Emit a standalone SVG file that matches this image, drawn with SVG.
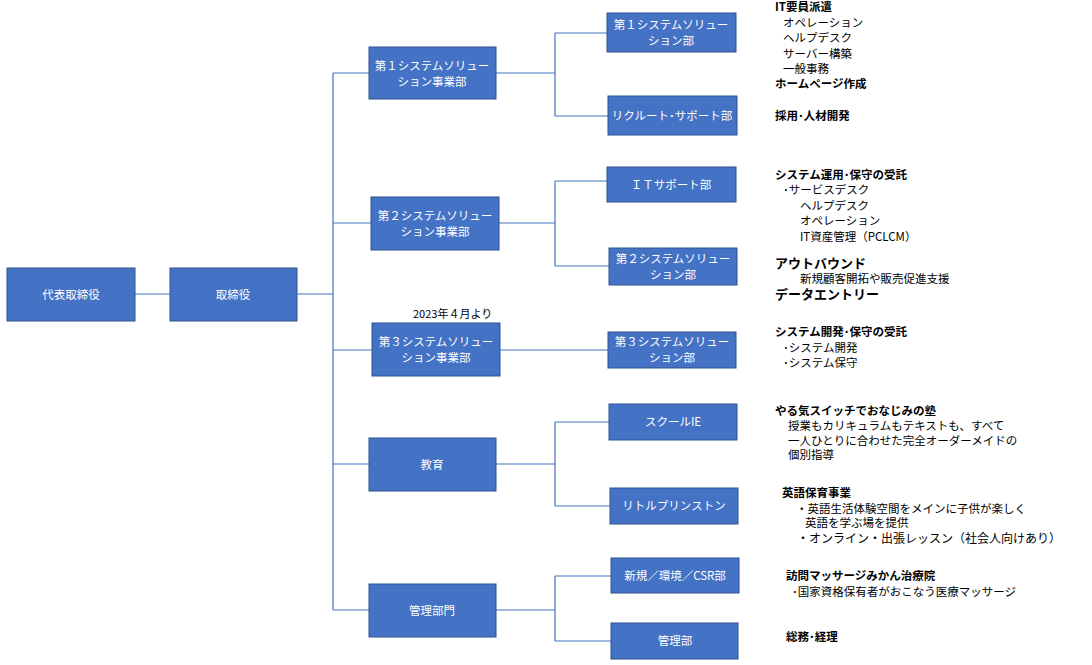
<svg xmlns="http://www.w3.org/2000/svg" width="1092" height="665" viewBox="0 0 1092 665">
<style>
.b{fill:#4472C4;stroke:#2F528F;stroke-width:1}
.bt{fill:#fff;font-family:"Noto Sans CJK JP",sans-serif;font-size:11.5px;text-anchor:middle}
.c{fill:none;stroke:#4472C4;stroke-width:1.2}
.d{font-family:"Noto Sans CJK JP",sans-serif;font-size:11.5px;fill:#000}
.h{font-weight:bold}
</style>
<rect width="1092" height="665" fill="#fff"/>
<g id="connectors" class="c">
<path d="M135,294H170M297,294H333M333,73V610M333,73H369M333,223H371M333,350H372M333,464H369M333,610H369"/>
<path d="M496,73H555M555,33V116M555,33H607M555,116H608"/>
<path d="M499,223H555M555,181V266M555,181H607M555,266H609"/>
<path d="M500,350H608"/>
<path d="M496,464H555M555,422V506M555,422H609M555,506H610"/>
<path d="M496,610H555M555,576V641M555,576H611M555,641H611"/>
</g>
<g id="n1"><rect class="b" x="7" y="268" width="128" height="53"/><text class="bt" x="71" y="299">代表取締役</text></g>
<g id="n2"><rect class="b" x="170" y="268" width="127" height="53"/><text class="bt" x="233" y="299">取締役</text></g>
<g id="n3"><rect class="b" x="369" y="47" width="127" height="52"/><text class="bt" x="432" y="70">第１システムソリュー</text><text class="bt" x="432" y="86">ション事業部</text></g>
<g id="n4"><rect class="b" x="371" y="197" width="128" height="53"/><text class="bt" x="435" y="220">第２システムソリュー</text><text class="bt" x="435" y="236">ション事業部</text></g>
<g id="n5"><text class="d" x="413" y="318" style="font-size:11px">2023年４月より</text><rect class="b" x="372" y="323" width="128" height="53"/><text class="bt" x="436" y="346">第３システムソリュー</text><text class="bt" x="436" y="362">ション事業部</text></g>
<g id="n6"><rect class="b" x="369" y="438" width="127" height="53"/><text class="bt" x="432" y="469">教育</text></g>
<g id="n7"><rect class="b" x="369" y="584" width="127" height="53"/><text class="bt" x="432" y="615">管理部門</text></g>
<g id="m1"><rect class="b" x="607" y="13" width="129" height="39"/><text class="bt" x="671" y="29">第１システムソリュー</text><text class="bt" x="671" y="45">ション部</text></g>
<g id="m2"><rect class="b" x="608" y="96" width="129" height="39"/><text class="bt" x="672" y="120">リクルート･サポート部</text></g>
<g id="m3"><rect class="b" x="607" y="167" width="129" height="35"/><text class="bt" x="671" y="189">ＩＴサポート部</text></g>
<g id="m4"><rect class="b" x="609" y="248" width="128" height="37"/><text class="bt" x="673" y="263">第２システムソリュー</text><text class="bt" x="673" y="279">ション部</text></g>
<g id="m5"><rect class="b" x="608" y="332" width="128" height="36"/><text class="bt" x="672" y="346">第３システムソリュー</text><text class="bt" x="672" y="362">ション部</text></g>
<g id="m6"><rect class="b" x="609" y="404" width="128" height="36"/><text class="bt" x="673" y="426">スクールIE</text></g>
<g id="m7"><rect class="b" x="610" y="488" width="128" height="36"/><text class="bt" x="674" y="510">リトルプリンストン</text></g>
<g id="m8"><rect class="b" x="611" y="558" width="128" height="35"/><text class="bt" x="675" y="580">新規／環境／CSR部</text></g>
<g id="m9"><rect class="b" x="611" y="623" width="127" height="36"/><text class="bt" x="675" y="645">管理部</text></g>
<g id="texts">
<text class="d h" x="775" y="11">IT要員派遣</text>
<text class="d" x="783" y="27">オペレーション</text>
<text class="d" x="783" y="42">ヘルプデスク</text>
<text class="d" x="783" y="58">サーバー構築</text>
<text class="d" x="783" y="73">一般事務</text>
<text class="d h" x="775" y="88">ホームページ作成</text>
<text class="d h" x="775" y="120">採用･人材開発</text>
<text class="d h" x="775" y="179">システム運用･保守の受託</text>
<text class="d" x="783" y="194">･サービスデスク</text>
<text class="d" x="800" y="210">ヘルプデスク</text>
<text class="d" x="800" y="225">オペレーション</text>
<text class="d" x="800" y="241">IT資産管理（PCLCM）</text>
<text class="d h" x="775" y="268" style="font-size:13px">アウトバウンド</text>
<text class="d" x="800" y="283">新規顧客開拓や販売促進支援</text>
<text class="d h" x="775" y="299" style="font-size:13px">データエントリー</text>
<text class="d h" x="775" y="336">システム開発･保守の受託</text>
<text class="d" x="783" y="352">･システム開発</text>
<text class="d" x="783" y="367">･システム保守</text>
<text class="d h" x="775" y="415">やる気スイッチでおなじみの塾</text>
<text class="d" x="788" y="430">授業もカリキュラムもテキストも、すべて</text>
<text class="d" x="788" y="445">一人ひとりに合わせた完全オーダーメイドの</text>
<text class="d" x="788" y="459">個別指導</text>
<text class="d h" x="782" y="497">英語保育事業</text>
<text class="d" x="796" y="513">・英語生活体験空間をメインに子供が楽しく</text>
<text class="d" x="805" y="527">英語を学ぶ場を提供</text>
<text class="d" x="797" y="543" style="font-size:12px">・オンライン・出張レッスン（社会人向けあり）</text>
<text class="d h" x="786" y="580">訪問マッサージみかん治療院</text>
<text class="d" x="792" y="596">･国家資格保有者がおこなう医療マッサージ</text>
<text class="d h" x="786" y="641">総務･経理</text>
</g>
</svg>
